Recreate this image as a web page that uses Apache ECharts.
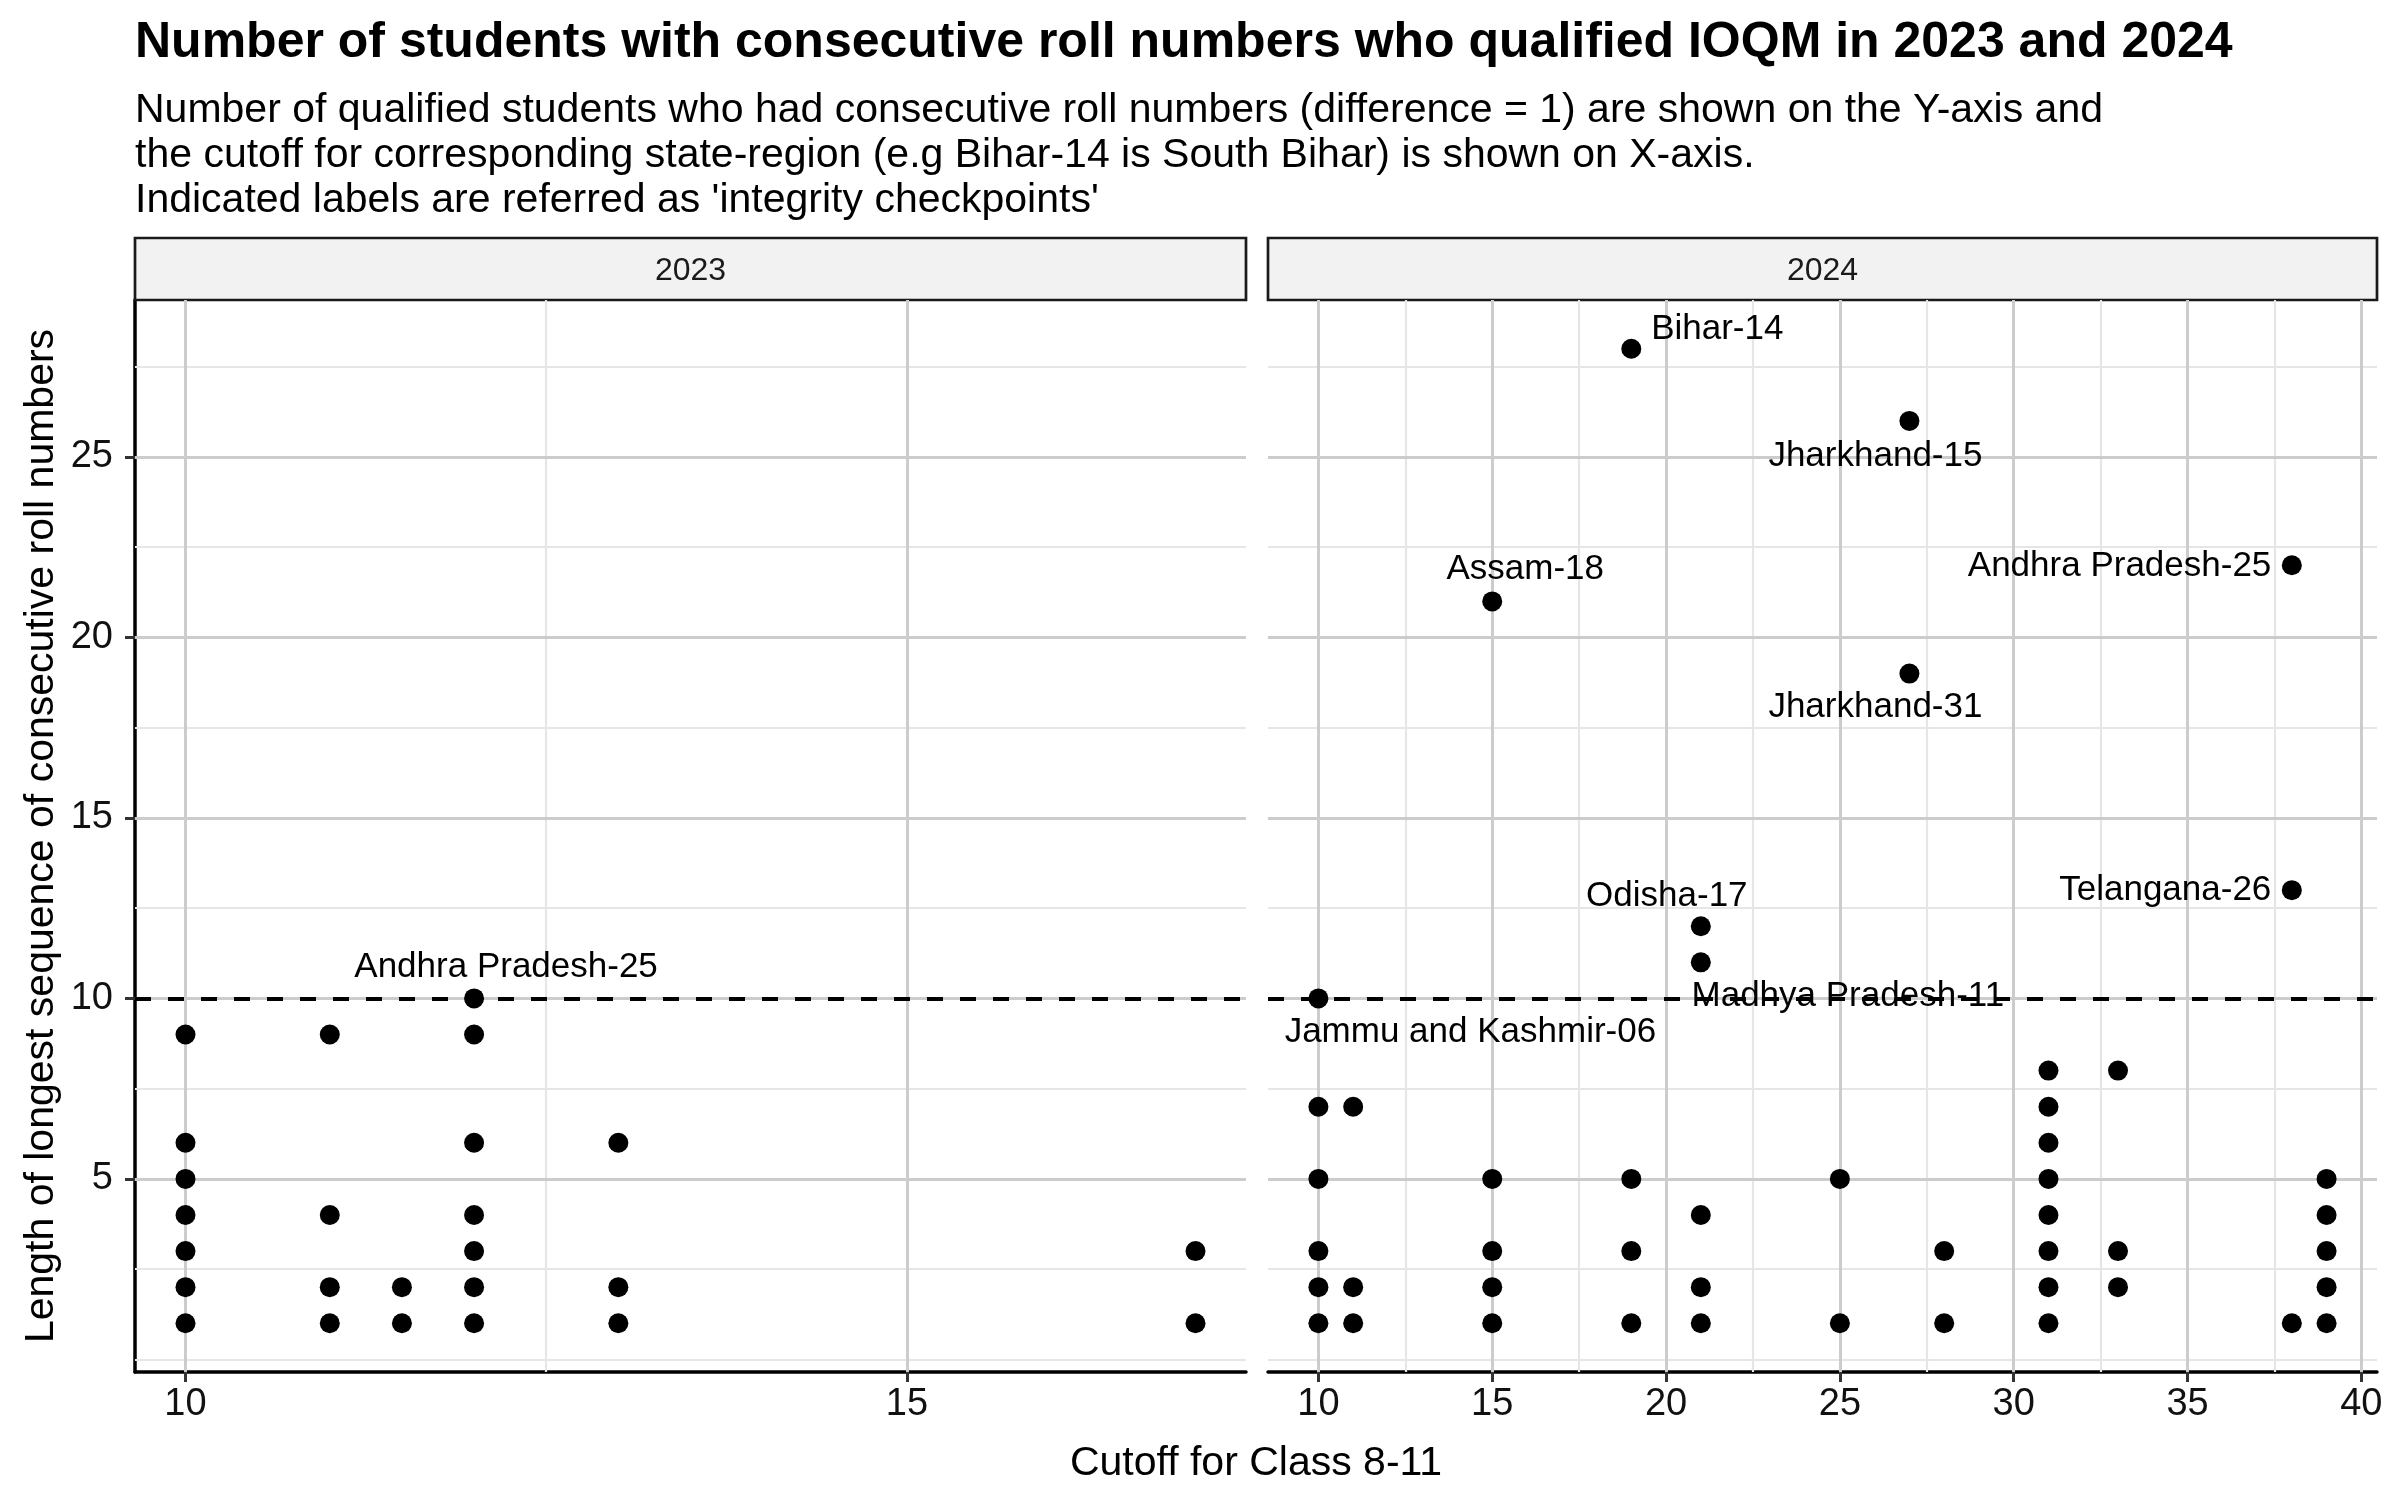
<!DOCTYPE html>
<html>
<head>
<meta charset="utf-8">
<script src="https://cdn.jsdelivr.net/npm/echarts@6/dist/echarts.min.js"></script>
<style>
html,body{margin:0;padding:0;background:#fff;}
#chart{width:2400px;height:1500px;}
</style>
</head>
<body>
<div id="chart"></div>
<script>
// ---------- data ----------
const cutoff2023 = [10,10,10,10,10,10,10, 11,11,11,11, 11.5,11.5, 12,12,12,12,12,12,12, 13,13,13, 17,17];
const length2023 = [9,6,5,4,3,2,1, 9,4,2,1, 2,1, 10,9,6,4,3,2,1, 6,2,1, 3,1];

const cutoff2024 = [10,10,10,10,10,10, 11,11,11, 15,15,15,15,15, 19,19,19,19, 21,21,21,21,21, 25,25, 27,27, 28,28, 31,31,31,31,31,31,31,31, 33,33,33, 38,38,38, 39,39,39,39,39];
const length2024 = [10,7,5,3,2,1, 7,2,1, 21,5,3,2,1, 28,5,3,1, 12,11,4,2,1, 5,1, 26,19, 3,1, 8,7,6,5,4,3,2,1, 8,3,2, 22,13,1, 5,4,3,2,1];

const labelNames2023 = ['Andhra Pradesh-25'];
const labelCutoff2023 = [12];
const labelLength2023 = [10];

const labelNames2024 = ['Bihar-14','Jharkhand-15','Assam-18','Andhra Pradesh-25','Jharkhand-31','Telangana-26','Odisha-17','Madhya Pradesh-11','Jammu and Kashmir-06'];
const labelCutoff2024 = [19,27,15,38,27,38,21,21,10];
const labelLength2024 = [28,26,21,22,19,13,12,11,10];

const threshold = 10;
const panelNames = ['2023','2024'];
const xTicks2023 = [10,15];
const xMinor2023 = [12.5];
const xTicks2024 = [10,15,20,25,30,35,40];
const xMinor2024 = [12.5,17.5,22.5,27.5,32.5,37.5];
const yTicks = [5,10,15,20,25];
const yMinor = [0,2.5,7.5,12.5,17.5,22.5,27.5];

const titleText = 'Number of students with consecutive roll numbers who qualified IOQM in 2023 and 2024';
const subtitleText = "Number of qualified students who had consecutive roll numbers (difference = 1) are shown on the Y-axis and\nthe cutoff for corresponding state-region (e.g Bihar-14 is South Bihar) is shown on X-axis.\nIndicated labels are referred as 'integrity checkpoints'";
const xTitle = 'Cutoff for Class 8-11';
const yTitle = 'Length of longest sequence of consecutive roll numbers';

// ---------- styles ----------
const FONT = '"Liberation Sans", Arial, Helvetica, sans-serif';
const labelStyle = {
  'Andhra Pradesh-25|2023': {position:'inside', offset:[32,-31]},
  'Bihar-14': {position:'inside', offset:[86,-19]},
  'Jharkhand-15': {position:'inside', offset:[-34,35]},
  'Assam-18': {position:'inside', offset:[33,-32]},
  'Andhra Pradesh-25|2024': {position:'left', distance:20, offset:[0,1]},
  'Jharkhand-31': {position:'inside', offset:[-34,34]},
  'Telangana-26': {position:'left', distance:20, offset:[0,0]},
  'Odisha-17': {position:'inside', offset:[-34,-30]},
  'Madhya Pradesh-11': {position:'inside', offset:[147,34]},
  'Jammu and Kashmir-06': {position:'inside', offset:[152,34]}
};

const G = [
  {left:135, top:300, width:1111, height:1072},
  {left:1268, top:300, width:1109, height:1072}
];
const majorLine = {color:'#cccccc', width:3, type:'solid'};
const minorLine = {color:'#e6e6e6', width:2.2, type:'solid'};

function zip(xs, ys){ return xs.map((x,i)=>[x, ys[i]]); }

function gridLinesSeries(idx, xMajor, xMinor){
  const data = [];
  yMinor.forEach(v=>data.push({yAxis:v, lineStyle:minorLine}));
  xMinor.forEach(v=>data.push({xAxis:v, lineStyle:minorLine}));
  yTicks.forEach(v=>data.push({yAxis:v, lineStyle:majorLine}));
  xMajor.forEach(v=>data.push({xAxis:v, lineStyle:majorLine}));
  return {
    type:'scatter', xAxisIndex:idx, yAxisIndex:idx, data:[], z:1, silent:true,
    markLine:{z:1, silent:true, symbol:['none','none'], label:{show:false}, animation:false, data:data}
  };
}
function thresholdSeries(idx){
  return {
    type:'scatter', xAxisIndex:idx, yAxisIndex:idx, data:[], z:4, silent:true,
    markLine:{z:4, silent:true, symbol:['none','none'], label:{show:false}, animation:false,
      lineStyle:{color:'#000', width:3.8, type:[16,17]},
      data:[{yAxis:threshold}]}
  };
}
function pointSeries(idx, xs, ys){
  return {type:'scatter', xAxisIndex:idx, yAxisIndex:idx, data:zip(xs,ys), symbol:'circle', symbolSize:20,
    itemStyle:{color:'#000', opacity:1}, z:5, silent:true};
}
function labelSeries(idx, names, xs, ys, year){
  return {type:'scatter', xAxisIndex:idx, yAxisIndex:idx, z:3, silent:true, symbolSize:1,
    itemStyle:{color:'#000', opacity:1},
    data: names.map((n,i)=>{
      const st = labelStyle[n+'|'+year] || labelStyle[n];
      return {value:[xs[i], ys[i]], name:n,
        label:Object.assign({show:true, formatter:n, color:'#000', opacity:1, textBorderWidth:0, textBorderColor:'transparent', textShadowBlur:0, fontSize:35, fontFamily:FONT}, st)};
    })
  };
}
function xAxis(idx, min, max, ticks){
  return {type:'value', gridIndex:idx, min:min, max:max,
    axisLine:{show:true, onZero:false, lineStyle:{color:'#000', width:3.5}},
    axisTick:{show:true, customValues:ticks, length:10, lineStyle:{color:'#333', width:3}},
    axisLabel:{show:true, customValues:ticks, fontSize:38, color:'#111', fontFamily:FONT, margin:14},
    splitLine:{show:false}, minorSplitLine:{show:false}};
}
function yAxis(idx, showAxis){
  return {type:'value', gridIndex:idx, min:-0.35, max:29.35,
    axisLine:{show:showAxis, onZero:false, lineStyle:{color:'#000', width:3.5}},
    axisTick:{show:showAxis, customValues:yTicks, length:10, lineStyle:{color:'#333', width:3}},
    axisLabel:{show:showAxis, customValues:yTicks, fontSize:38, color:'#111', fontFamily:FONT, margin:22},
    splitLine:{show:false}};
}

const graphics = [
  {type:'text', x:135, y:43, style:{text:titleText, fontSize:50, fontWeight:'bold', fontFamily:FONT, fill:'#000', align:'left', verticalAlign:'middle'}},
  {type:'text', x:135, y:156, style:{text:subtitleText, fontSize:41, lineHeight:45, fontFamily:FONT, fill:'#000', align:'left', verticalAlign:'middle'}},
  {type:'text', x:1256, y:1464, style:{text:xTitle, fontSize:41, fontFamily:FONT, fill:'#000', align:'center', verticalAlign:'middle'}},
  {type:'text', x:42, y:836, rotation:Math.PI/2, style:{text:yTitle, fontSize:41, fontFamily:FONT, fill:'#000', align:'center', verticalAlign:'middle'}}
];
G.forEach((g,i)=>{
  graphics.push({type:'rect', shape:{x:g.left, y:238, width:g.width, height:62}, style:{fill:'#f2f2f2', stroke:'#1a1a1a', lineWidth:2.7}, z:1});
  graphics.push({type:'text', x:g.left+g.width/2, y:271, style:{text:panelNames[i], fontSize:32, fontFamily:FONT, fill:'#1a1a1a', align:'center', verticalAlign:'middle'}, z:2});
});

const chart = echarts.init(document.getElementById('chart'), null, {renderer:'canvas'});
chart.setOption({
  animation:false,
  backgroundColor:'#fff',
  grid: G.map(g=>Object.assign({containLabel:false}, g)),
  xAxis:[xAxis(0, 9.65, 17.35, xTicks2023), xAxis(1, 8.55, 40.45, xTicks2024)],
  yAxis:[yAxis(0, true), yAxis(1, false)],
  graphic: graphics,
  series:[
    gridLinesSeries(0, xTicks2023, xMinor2023),
    gridLinesSeries(1, xTicks2024, xMinor2024),
    labelSeries(0, labelNames2023, labelCutoff2023, labelLength2023, '2023'),
    labelSeries(1, labelNames2024, labelCutoff2024, labelLength2024, '2024'),
    thresholdSeries(0),
    thresholdSeries(1),
    pointSeries(0, cutoff2023, length2023),
    pointSeries(1, cutoff2024, length2024)
  ]
});
</script>
</body>
</html>
